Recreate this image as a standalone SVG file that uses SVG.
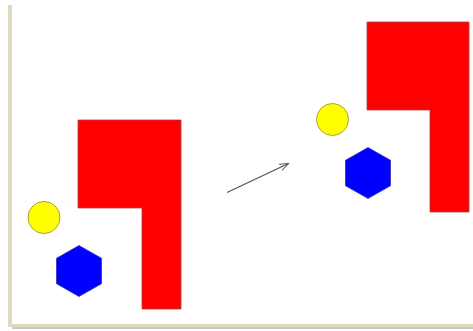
<svg xmlns="http://www.w3.org/2000/svg" width="473" height="331" viewBox="0 0 473 331">
<defs>
<style>
.red{fill:#ff0000;stroke:#b04040;stroke-width:0.8}
.yel{fill:#ffff00;stroke:#a8a040;stroke-width:1}
.hex{fill:#0000ff;stroke:#3030c0;stroke-width:0.8}
.conn{stroke:#555;stroke-width:1.2;fill:none}
</style>
<marker id="ah" markerWidth="10" markerHeight="8" refX="9" refY="4" orient="auto" markerUnits="userSpaceOnUse">
<path d="M0,0.5 L9,4 L0,7.5" fill="none" stroke="#555" stroke-width="1"/>
</marker>
</defs>
<rect x="0" y="0" width="473" height="331" fill="#ffffff"/>
<g id="frame">
<rect x="8" y="5" width="4" height="322" fill="#e0d8c0"/>
<rect x="8" y="324" width="465" height="3" fill="#e0d8c0"/>
<rect x="12" y="327" width="461" height="2" fill="#c8c8c0"/>
</g>
<g id="left-L"><path class="red" d="M78,120 H181 V309 H142 V208 H78 Z"/></g>
<g id="left-circle"><circle class="yel" cx="44" cy="217.5" r="16"/></g>
<g id="left-hex"><polygon class="hex" points="79,245.5 101.5,258.3 101.5,283.7 79,296.5 56.5,283.7 56.5,258.3"/></g>
<g id="right-L"><path class="red" d="M367,22 H469 V212 H430 V110 H367 Z"/></g>
<g id="right-circle"><circle class="yel" cx="332.5" cy="119.5" r="16"/></g>
<g id="right-hex"><polygon class="hex" points="368,147.5 390.5,160.3 390.5,185.7 368,198.5 345.5,185.7 345.5,160.3"/></g>
<g id="connectors">
<line class="conn" x1="227" y1="192.5" x2="288.5" y2="163.5" marker-end="url(#ah)"/>
</g>
</svg>
